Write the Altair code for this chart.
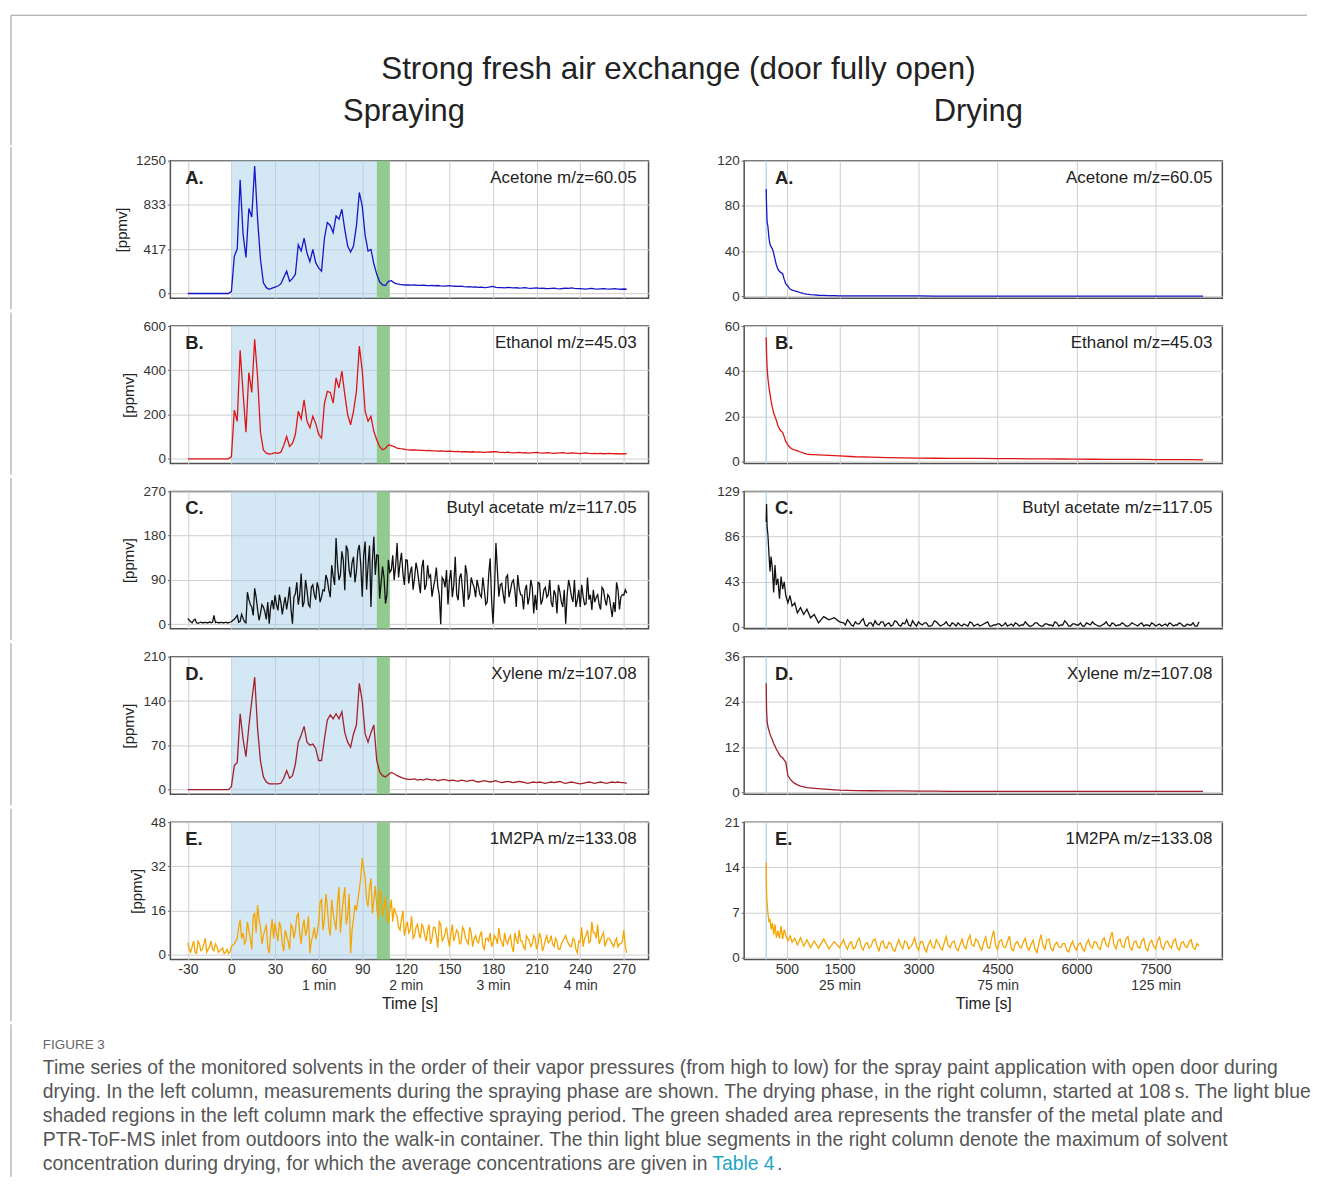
import altair as alt
import pandas as pd

FONT = "Liberation Sans"
FRAME = "#9a9a9a"

# ---------------- text ----------------
TITLE = "Strong fresh air exchange (door fully open)"
COL_TITLES = ["Spraying", "Drying"]
LETTERS = ["A.", "B.", "C.", "D.", "E."]
SPECIES = ["Acetone m/z=60.05", "Ethanol m/z=45.03", "Butyl acetate m/z=117.05",
           "Xylene m/z=107.08", "1M2PA m/z=133.08"]
CAPTION_HEAD = "FIGURE 3"
CAPTION_LINES = [
    "Time series of the monitored solvents in the order of their vapor pressures (from high to low) for the spray paint application with open door during",
    "drying. In the left column, measurements during the spraying phase are shown. The drying phase, in the right column, started at 108\u2009s. The light blue",
    "shaded regions in the left column mark the effective spraying period. The green shaded area represents the transfer of the metal plate and",
    "PTR-ToF-MS inlet from outdoors into the walk-in container. The thin light blue segments in the right column denote the maximum of solvent",
]
CAPTION_LAST = "concentration during drying, for which the average concentrations are given in"
CAPTION_LINK = "Table 4"
CAPTION_END = "."

# ---------------- axes ----------------
LEFT_YTICKS = [[0, 417, 833, 1250], [0, 200, 400, 600], [0, 90, 180, 270], [0, 70, 140, 210], [0, 16, 32, 48]]
RIGHT_YTICKS = [[0, 40, 80, 120], [0, 20, 40, 60], [0, 43, 86, 129], [0, 12, 24, 36], [0, 7, 14, 21]]
LEFT_XTICKS = [-30, 0, 30, 60, 90, 120, 150, 180, 210, 240, 270]
LEFT_XSUB = [(60, "1 min"), (120, "2 min"), (180, "3 min"), (240, "4 min")]
RIGHT_XTICKS = [500, 1500, 3000, 4500, 6000, 7500]
RIGHT_XSUB = [(1500, "25 min"), (4500, "75 min"), (7500, "125 min")]
LEFT_XDOMAIN = [-42, 287]
RIGHT_XDOMAIN = [-310, 8767]

SPRAY_PERIOD = [0, 100]
TRANSFER_PERIOD = [100, 109]
DRYING_MAX_MARK = [108]

# ---------------- spraying phase (left column) ----------------
left_time = list(range(-30, 273, 2))       # even seconds
left_time_odd = list(range(-29, 272, 2))   # odd seconds (noisy species only)

acetone_spray = [
    0, 0, 0, 0, 0, 0, 0, 0, 0, 0,
    0, 0, 0, 0, 0, 20, 350, 420, 1070, 560,
    340, 800, 720, 1200, 700, 320, 100, 55, 40, 50,
    60, 70, 90, 150, 210, 115, 140, 180, 460, 400,
    520, 380, 300, 415, 290, 240, 210, 520, 668, 640,
    573, 730, 700, 793, 600, 447, 390, 447, 636, 951,
    825, 550, 400, 415, 280, 180, 110, 80, 75, 115,
    120, 100, 90, 85, 82, 80, 80, 78, 80, 77,
    76, 78, 75, 74, 76, 73, 75, 72, 70, 72,
    74, 70, 68, 66, 70, 65, 62, 64, 60, 62,
    58, 60, 56, 58, 62, 66, 58, 55, 56, 52,
    58, 55, 52, 54, 50, 52, 55, 50, 48, 50,
    52, 48, 50, 47, 45, 48, 50, 46, 44, 47,
    50, 48, 52, 48, 45, 46, 44, 42, 45, 48,
    44, 42, 44, 46, 43, 42, 44, 45, 42, 40,
    42, 40,
]
ethanol_spray = [
    0, 0, 0, 0, 0, 0, 0, 0, 0, 0,
    0, 0, 0, 0, 0, 10, 220, 170, 490, 300,
    120, 390, 300, 540, 370, 120, 40, 26, 22, 24,
    28, 25, 30, 60, 101, 56, 70, 110, 215, 180,
    267, 170, 140, 192, 160, 110, 94, 250, 305, 300,
    252, 366, 320, 396, 290, 200, 154, 215, 305, 509,
    400, 215, 170, 192, 124, 85, 55, 41, 48, 63,
    60, 55, 48, 46, 45, 42, 41, 40, 40, 39,
    38, 38, 37, 38, 36, 36, 35, 36, 35, 34,
    35, 34, 33, 34, 32, 33, 32, 31, 32, 30,
    31, 30, 29, 30, 31, 32, 33, 30, 29, 28,
    30, 28, 27, 28, 29, 27, 28, 26, 27, 28,
    29, 27, 26, 27, 28, 26, 25, 26, 27, 28,
    26, 25, 27, 26, 25, 24, 26, 27, 25, 24,
    25, 24, 25, 23, 24, 25, 24, 23, 24, 22,
    24, 22,
]
butyl_spray = [
    12, 5, 8, 3, 3, 3, 4, 3, 3, 18,
    4, 3, 3, 4, 3, 5, 10, 18, 6, 12,
    3, 50, 35, 73, 30, 22, 35, 10, 1, 49,
    59, 28, 45, 40, 30, 76, 1, 62, 40, 103,
    45, 69, 35, 80, 50, 73, 55, 68, 90, 55,
    97, 175, 90, 148, 69, 151, 95, 137, 107, 161,
    56, 168, 120, 35, 178, 141, 52, 117, 42, 131,
    110, 90, 165, 124, 103, 131, 83, 117, 93, 110,
    63, 131, 80, 95, 56, 90, 76, 0, 90, 110,
    90, 55, 137, 49, 103, 35, 103, 60, 83, 55,
    76, 55, 70, 45, 134, 1, 165, 56, 83, 42,
    100, 69, 90, 35, 73, 59, 69, 40, 90, 22,
    29, 83, 49, 75, 60, 45, 69, 22, 66, 35,
    1, 90, 56, 90, 49, 35, 56, 42, 50, 29,
    45, 60, 30, 70, 38, 55, 15, 25, 70, 56,
    59, 63,
]
butyl_spray_odd = [
    8, 3, 10, 2, 4, 3, 3, 5, 4, 3,
    3, 4, 3, 3, 4, 8, 14, 4, 20, 5,
    65, 40, 18, 55, 8, 40, 25, 45, 35, 30,
    40, 60, 20, 55, 50, 30, 55, 85, 60, 35,
    90, 40, 75, 60, 85, 45, 70, 100, 70, 120,
    80, 120, 100, 130, 160, 110, 125, 85, 150, 120,
    140, 70, 160, 130, 100, 140, 85, 95, 60, 105,
    140, 120, 95, 145, 80, 130, 105, 70, 125, 85,
    115, 70, 120, 100, 75, 115, 60, 95, 75, 40,
    110, 80, 60, 95, 70, 120, 50, 95, 75, 90,
    60, 95, 40, 100, 50, 70, 110, 80, 60, 95,
    55, 85, 70, 100, 60, 30, 80, 55, 75, 60,
    85, 40, 70, 55, 90, 35, 60, 80, 45, 70,
    60, 75, 45, 35, 70, 80, 40, 95, 60, 70,
    55, 40, 75, 50, 60, 35, 45, 85, 30, 60,
    70,
]
xylene_spray = [
    0, 0, 0, 0, 0, 0, 0, 0, 0, 0,
    0, 0, 0, 0, 0, 5, 38, 43, 120, 80,
    52, 100, 140, 178, 96, 45, 20, 12, 9, 9,
    9, 9, 10, 18, 30, 18, 22, 40, 75, 86,
    100, 75, 70, 72, 65, 46, 46, 80, 110, 118,
    112, 120, 112, 123, 90, 75, 67, 88, 102, 168,
    140, 88, 75, 90, 102, 46, 28, 22, 20, 24,
    27, 25, 22, 20, 18, 17, 16, 16, 17, 15,
    16, 15, 17, 16, 15, 16, 14, 15, 16, 15,
    14, 15, 14, 13, 15, 14, 13, 14, 15, 13,
    12, 13, 14, 13, 12, 13, 14, 12, 11, 12,
    13, 12, 11, 12, 13, 12, 11, 10, 11, 12,
    11, 12, 11, 10, 11, 12, 11, 12, 13, 11,
    10, 11, 12, 11, 10, 9, 10, 11, 12, 11,
    10, 11, 12, 11, 10, 11, 12, 11, 12, 11,
    11, 10,
]
m2pa_spray = [
    4.4, 1, 5, 0.6, 4, 2, 6, 2, 5, 1.5,
    3, 1.5, 2.5, 1, 0.5, 3.2, 4, 6, 12.8, 8,
    5, 9, 2, 15, 18, 10, 7, 11, 0.6, 13,
    11.6, 5, 10, 1.4, 7, 2, 10, 9, 15, 4,
    12.8, 9, 0.6, 7, 5.6, 11.6, 20, 13, 17.5, 7,
    15, 9, 24.5, 15, 24.5, 14, 0.6, 13, 16, 23.5,
    35, 28, 17.5, 27.7, 20, 17.5, 23.5, 14, 21, 11.6,
    20, 17, 14, 9, 16, 10, 8, 14, 7, 11,
    6, 10, 5, 11, 6, 10, 2.6, 11, 6, 10,
    3, 11, 7, 8, 4.4, 9, 5, 10, 3, 7,
    4.4, 8.5, 2, 6, 8, 4.4, 6, 9.8, 4.4, 8,
    4, 7, 1, 5.5, 9, 5, 2, 6, 3, 7,
    2, 8, 1.4, 5.5, 4.4, 7, 3, 5, 2, 5,
    7, 4, 3, 5.5, 0.8, 4.7, 3, 7, 4.4, 12,
    8, 11, 5.5, 8, 4.8, 6, 4, 5, 3, 4,
    9, 0.8,
]
m2pa_spray_odd = [
    2, 3, 1, 5, 1.5, 4, 1, 3, 2, 4,
    1, 2, 0.5, 2, 1, 3.5, 5, 10, 6, 4,
    12, 6, 14, 8, 13, 4, 9, 3, 8, 6,
    8, 12, 4, 9, 5, 11, 6, 14, 8, 10,
    7, 14, 5, 10, 8, 19, 9, 22, 10, 20,
    12, 19, 8, 20, 11, 22, 9, 18, 20, 28,
    31, 20, 24, 15, 25, 13, 22, 17, 14, 16,
    12, 15, 10, 13, 7, 12, 9, 6, 10, 8,
    11, 7, 9, 4, 10, 7, 12, 5, 8, 6,
    8, 5, 9, 4, 10, 6, 4, 8, 6, 5,
    7, 3, 6, 5, 3, 7, 4, 6, 3, 5,
    6, 3, 8, 4, 5, 3, 7, 5, 4, 6,
    4, 6, 3, 7, 5, 4, 6, 2, 4, 6,
    5, 3, 6, 2, 5, 10, 6, 9, 5, 8,
    6, 4, 7, 3, 6, 5, 3, 6, 4, 5,
    3,
]

# ---------------- drying phase (right column) ----------------
right_t_early = [108, 115, 125, 140, 160, 180, 200, 225, 250, 275,
                 300, 330, 360, 390, 420, 450, 480, 520, 560, 600,
                 650, 700, 760, 820, 880, 950, 1020, 1100, 1200, 1300,
                 1400, 1500]
right_t_smooth = right_t_early + list(range(1800, 8401, 300))
right_t_noisy = right_t_early + list(range(1575, 8326, 75))
right_t_noisy_mid = list(range(1612, 8300, 75))

acetone_dry = [95, 80, 66, 62, 52, 46, 44, 42, 38, 33,
               28, 24, 22, 21, 20, 15, 11, 9, 6.5, 5.5,
               4.8, 4.2, 3.2, 2.5, 2.0, 1.6, 1.3, 1.0, 0.8, 0.7,
               0.6, 0.5,
               0.45, 0.4, 0.4, 0.35, 0.35, 0.3, 0.3, 0.3, 0.3, 0.3,
               0.3, 0.3, 0.3, 0.3, 0.3, 0.3, 0.3, 0.3, 0.3, 0.3,
               0.3, 0.3, 0.3]
ethanol_dry = [55, 48, 42, 37, 33, 30, 27, 24, 21.5, 20,
               18.4, 16, 14.5, 13.5, 13, 11, 9, 7.5, 6.3, 5.7,
               5.2, 4.8, 4.3, 3.8, 3.4, 3.2, 3.1, 3.0, 2.9, 2.8,
               2.7, 2.6,
               2.2, 2.0, 1.8, 1.7, 1.6, 1.55, 1.5, 1.5, 1.45, 1.4,
               1.4, 1.3, 1.25, 1.2, 1.15, 1.1, 1.05, 1.0, 1.0, 0.95,
               0.9, 0.9, 0.85]
xylene_dry = [29, 22, 19, 17.5, 16.5, 15.5, 14.8, 14, 13, 12.3,
              11.5, 10.8, 10, 9.5, 9.2, 8.6, 8, 4.5, 3.6, 3.0,
              2.4, 2.0, 1.7, 1.5, 1.3, 1.2, 1.1, 1.0, 0.9, 0.8,
              0.7, 0.6,
              0.5, 0.45, 0.4, 0.4, 0.35, 0.35, 0.3, 0.3, 0.3, 0.3,
              0.3, 0.3, 0.3, 0.3, 0.3, 0.3, 0.3, 0.3, 0.3, 0.3,
              0.3, 0.3, 0.3]
butyl_dry = [100, 117, 95, 88, 70, 53, 67, 56, 33, 59,
             40, 46, 27, 48, 36, 43, 30, 23, 30, 20,
             23, 13.6, 18.5, 12, 17, 8.8, 12, 4, 10, 7,
             9, 5,
             4, 7, 2, 5, 3, 8, 1, 4, 6, 2,
             5, 3, 1, 6, 2, 4, 7, 1, 3, 5,
             2, 4, 1, 6, 3, 2, 5, 1, 3, 4,
             1, 2, 5, 1, 3, 2, 4, 1, 2, 3,
             1, 4, 2, 1, 3, 2, 5, 1, 2, 4,
             1, 3, 2, 1, 4, 2, 6, 1, 3, 2,
             4, 1, 3, 5, 2, 1, 3, 2, 4, 1,
             2, 3, 1, 4, 2, 3, 1, 2, 4, 1,
             3, 2, 1, 3, 2, 4, 1, 3, 2, 1,
             5]
butyl_dry_mid = [2, 5, 1, 3, 6, 2, 4, 1, 3, 5,
                 1, 4, 2, 5, 1, 3, 2, 6, 1, 3,
                 4, 1, 2, 5, 1, 3, 2, 4, 1, 2,
                 3, 1, 4, 2, 1, 3, 5, 1, 2, 3,
                 2, 1, 3, 4, 1, 2, 3, 1, 4, 2,
                 1, 3, 2, 5, 1, 2, 4, 1, 3, 2,
                 1, 4, 2, 3, 1, 2, 5, 1, 3, 2,
                 4, 1, 2, 3, 1, 4, 2, 1, 3, 2,
                 1, 3, 4, 1, 2, 3, 1, 2, 4, 1]
m2pa_dry = [14.8, 10, 8.5, 7, 5.5, 6, 4.4, 5.4, 3.6, 5.2,
            3.1, 4.2, 3.0, 4.9, 2.9, 4.4, 3.5, 2.6, 3.4, 2.4,
            3.0, 2.0, 3.1, 1.8, 2.8, 1.6, 2.6, 1.5, 2.9, 1.4,
            2.5, 1.6,
            2.8, 1.3, 2.5, 1.6, 3.0, 1.2, 2.4, 1.8, 2.9, 1.1,
            2.6, 1.5, 2.2, 1.0, 2.8, 1.4, 2.4, 1.7, 3.1, 1.2,
            2.5, 0.9, 2.7, 1.5, 2.3, 1.2, 3.3, 1.6, 2.6, 1.1,
            2.9, 1.4, 3.5, 1.8, 2.6, 1.2, 3.2, 1.5, 4.2, 1.3,
            2.8, 1.6, 3.4, 1.1, 2.5, 1.5, 3.0, 1.2, 2.7, 0.8,
            3.6, 1.3, 2.9, 1.1, 2.4, 1.6, 2.2, 0.9, 2.6, 1.2,
            2.3, 1.0, 2.8, 1.5, 2.4, 1.3, 3.1, 1.7, 4.0, 1.4,
            2.9, 1.6, 3.3, 1.2, 2.6, 1.5, 3.0, 1.1, 2.7, 1.4,
            3.2, 1.3, 2.6, 1.5, 2.9, 1.2, 2.5, 1.6, 2.8, 1.3,
            1.8]
m2pa_dry_mid = [1.9, 2.2, 1.4, 2.6, 1.7, 2.1, 1.5, 2.7, 1.8, 2.3,
                1.6, 2.4, 1.3, 2.0, 1.9, 2.6, 1.4, 2.2, 1.8, 2.5,
                1.5, 2.1, 1.7, 2.8, 1.6, 2.3, 1.9, 2.4, 1.5, 2.0,
                1.8, 2.7, 2.0, 2.9, 1.7, 2.4, 1.6, 3.0, 1.9, 2.6,
                1.7, 2.5, 1.4, 2.2, 1.8, 2.4, 1.6, 2.1, 1.3, 2.3,
                1.9, 2.8, 1.5, 2.0, 1.7, 2.2, 1.2, 1.9, 1.6, 2.1,
                1.4, 2.2, 1.8, 2.5, 1.6, 2.7, 2.0, 3.0, 1.9, 2.6,
                1.8, 2.9, 1.6, 2.4, 1.7, 2.6, 1.5, 2.3, 1.8, 2.7,
                1.7, 2.4, 1.9, 2.6, 1.6, 2.3, 1.8, 2.5, 1.6, 2.2]

COLORS = ["#1616c8", "#e01414", "#111111", "#a3202d", "#f5a500"]


def series(*pairs):
    t, v = [], []
    for tt, vv in pairs:
        t += list(tt)
        v += list(vv)
    return pd.DataFrame({"t": t, "v": v}).sort_values("t")


LEFT_SERIES = [
    series((left_time, acetone_spray)),
    series((left_time, ethanol_spray)),
    series((left_time, butyl_spray), (left_time_odd, butyl_spray_odd)),
    series((left_time, xylene_spray)),
    series((left_time, m2pa_spray), (left_time_odd, m2pa_spray_odd)),
]
RIGHT_SERIES = [
    series((right_t_smooth, acetone_dry)),
    series((right_t_smooth, ethanol_dry)),
    series((right_t_noisy, butyl_dry), (right_t_noisy_mid, butyl_dry_mid)),
    series((right_t_smooth, xylene_dry)),
    series((right_t_noisy, m2pa_dry), (right_t_noisy_mid, m2pa_dry_mid)),
]

W, H = 480, 138
LEFT_EXT = 160          # distance from the page frame to the left plot edge
CAP_SIZE = 19.4


def label_expr(subs):
    parts = [f"datum.value == {v} ? ['{v}', '{s}']" for v, s in subs]
    return " : ".join(parts) + " : '' + datum.value"


def one(df_dict):
    return pd.DataFrame(df_dict)


def text_layer(s, x, y, size, align="center", weight="normal", color="#222"):
    return alt.Chart(one({"s": [s]})).mark_text(
        align=align, baseline="middle", fontSize=size, fontWeight=weight,
        color=color, font=FONT).encode(x=alt.value(x), y=alt.value(y), text="s:N")


def rule_layer(x, y, x2=None, y2=None, color=FRAME, width=1):
    enc = dict(x=alt.value(x), y=alt.value(y))
    if x2 is not None:
        enc["x2"] = alt.value(x2)
    if y2 is not None:
        enc["y2"] = alt.value(y2)
    return alt.Chart(one({"d": [0]})).mark_rule(color=color, strokeWidth=width).encode(**enc)


def panel(df, idx, side):
    left = side == "left"
    bottom = idx == 4
    ticks = (LEFT_YTICKS if left else RIGHT_YTICKS)[idx]
    ymax = ticks[-1]
    ylo = -ymax * (0.035 if left else 0.013)
    xscale = alt.Scale(domain=LEFT_XDOMAIN if left else RIGHT_XDOMAIN, nice=False, zero=False)
    yscale = alt.Scale(domain=[ylo, ymax], nice=False, zero=False)
    xticks = LEFT_XTICKS if left else RIGHT_XTICKS
    if bottom:
        xaxis = alt.Axis(values=xticks, grid=True, ticks=False, domain=False,
                         labelExpr=label_expr(LEFT_XSUB if left else RIGHT_XSUB),
                         labelFontSize=14, labelPadding=3, labelLineHeight=16,
                         labelOverlap=False, labelFlush=False,
                         title="Time [s]", titleFontSize=16, titlePadding=3,
                         titleFontWeight="normal")
    else:
        xaxis = alt.Axis(values=xticks, grid=True, ticks=False, domain=False,
                         labels=False, title=None)
    yaxis = alt.Axis(values=ticks, grid=True, domain=False, tickSize=3, format="d",
                     labelPadding=2, labelFontSize=13.5, labelFlush=False,
                     labelOverlap=False, title="[ppmv]" if left else None,
                     titleFontSize=15, titlePadding=6, titleFontWeight="normal")

    layers = []
    if left:
        for period, col, op in [(SPRAY_PERIOD, "#a8d2ea", 0.5), (TRANSFER_PERIOD, "#8cc78a", 0.95)]:
            layers.append(
                alt.Chart(one({"start": [period[0]], "end": [period[1]]}))
                .mark_rect(color=col, opacity=op)
                .encode(x=alt.X("start:Q", scale=xscale, axis=xaxis), x2="end:Q",
                        y=alt.value(0), y2=alt.value(H))
            )
    else:
        layers.append(
            alt.Chart(one({"t": DRYING_MAX_MARK}))
            .mark_rule(color="#a9d6ec", strokeWidth=1.3)
            .encode(x=alt.X("t:Q", scale=xscale, axis=xaxis))
        )
    layers.append(
        alt.Chart(df).mark_line(color=COLORS[idx], strokeWidth=1.3, clip=True)
        .encode(x=alt.X("t:Q", scale=xscale, axis=xaxis),
                y=alt.Y("v:Q", scale=yscale, axis=yaxis), order="t:Q")
    )
    lx = 15 if left else 31
    layers.append(text_layer(LETTERS[idx], lx, 17, 18.5, align="left", weight="bold", color="#222"))
    layers.append(text_layer(SPECIES[idx], 468 if left else 470, 17, 17, align="right", color="#222"))
    if left:
        layers.append(rule_layer(-LEFT_EXT, -13.5, y2=(200 if bottom else 149.25)))
    else:
        layers.append(rule_layer(-60, 0, y2=H, color="white", width=1))
    return alt.layer(*layers).properties(width=W, height=H)


panels = []
for i in range(5):
    panels.append(panel(LEFT_SERIES[i], i, "left"))
    panels.append(panel(RIGHT_SERIES[i], i, "right"))

grid = alt.concat(*panels, columns=2, spacing={"row": 0, "column": 33}, align="each")

# header / caption share the grid's origin (left plot edge = page x 170)
header = alt.layer(
    rule_layer(-LEFT_EXT, 0, x2=1141),
    rule_layer(-LEFT_EXT, 0, y2=130.5),
    text_layer(TITLE, 510, 55, 31.5),
    text_layer(COL_TITLES[0], 234.5, 97, 31),
    text_layer(COL_TITLES[1], 811, 97, 31),
).properties(width=1130, height=130, view=alt.ViewBackground(strokeOpacity=0))

cap_layers = [rule_layer(-LEFT_EXT, 0, y2=153),
              text_layer(CAPTION_HEAD, -128, 21, 13.5, align="left", color="#666")]
for k, line in enumerate(CAPTION_LINES):
    cap_layers.append(text_layer(line, -128, 44 + 24 * k, CAP_SIZE, align="left", color="#555"))
cap_layers.append(text_layer(CAPTION_LAST, -128, 140, CAP_SIZE, align="left", color="#555"))
cap_layers.append(text_layer(CAPTION_LINK, 544, 140, CAP_SIZE, align="left", color="#1fa6c4"))
cap_layers.append(text_layer(CAPTION_END, 609, 140, CAP_SIZE, align="left", color="#555"))
caption = alt.layer(*cap_layers).properties(width=1130, height=150,
                                            view=alt.ViewBackground(strokeOpacity=0))

chart = (
    alt.vconcat(header, grid, caption, spacing=0)
    .properties(padding={"left": 1, "top": 4, "right": 0, "bottom": 0}, background="white")
    .configure_view(stroke="#505050", strokeWidth=1.5)
    .configure_axis(labelFont=FONT, titleFont=FONT, labelColor="#333", titleColor="#222",
                    gridColor="#cfcfcf", gridWidth=1, tickColor="#666")
)

chart.save("out.html", embed_options={"renderer": "svg", "actions": False})
